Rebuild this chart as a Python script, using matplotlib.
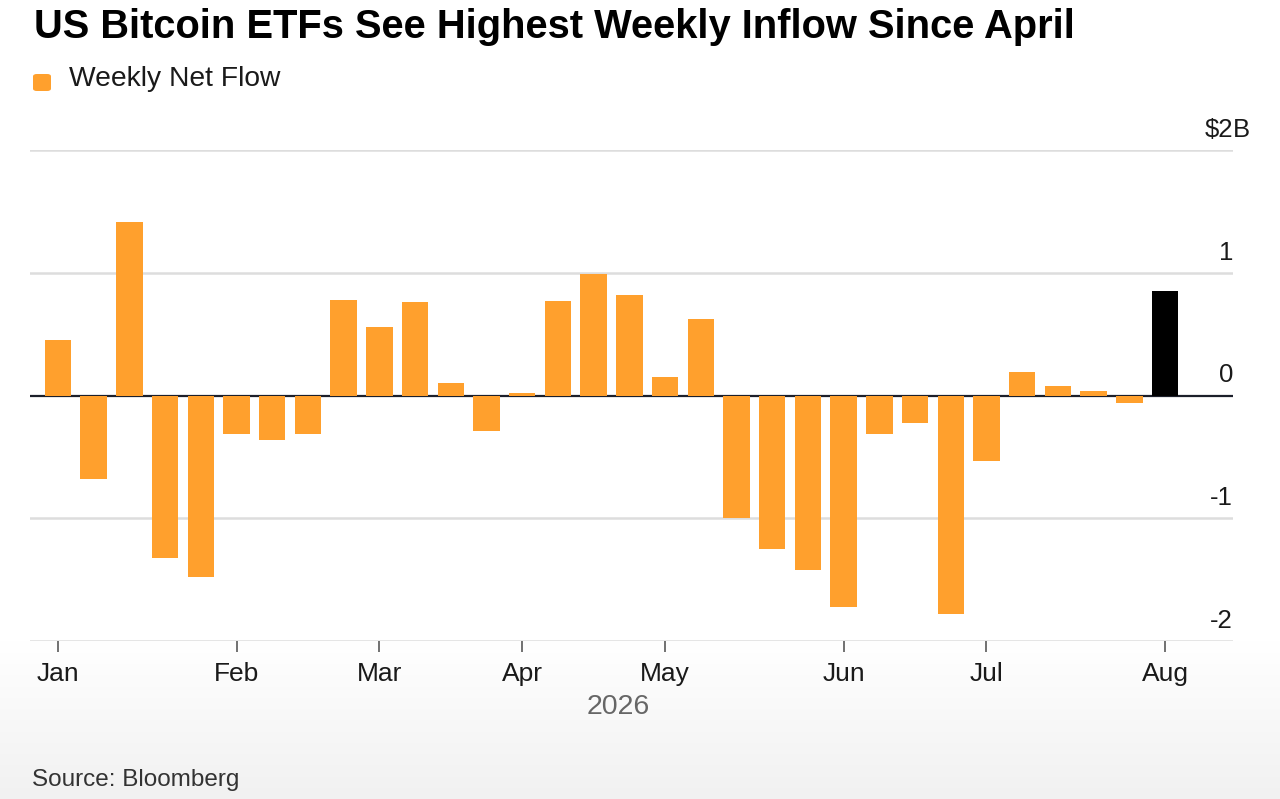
import numpy as np
import pandas as pd
import matplotlib
matplotlib.use("Agg")
import matplotlib.pyplot as plt
from matplotlib.patches import FancyBboxPatch

plt.rcParams['font.family'] = ['Liberation Sans', 'DejaVu Sans']

# ---- data ----
week_ending = list(pd.date_range('2026-01-02', periods=32, freq='7D').strftime('%Y-%m-%d'))
net_flow_bn = [0.45, -0.68, 1.41, -1.32, -1.48, -0.31, -0.36, -0.31,
               0.78, 0.56, 0.76, 0.10, -0.29, 0.02, 0.77, 0.99,
               0.82, 0.15, 0.62, -1.00, -1.25, -1.42, -1.72, -0.31,
               -0.22, -1.78, -0.53, 0.19, 0.08, 0.04, -0.06, 0.85]
highlight_last = True
y_ticks = [-2, -1, 0, 1, 2]
y_tick_labels = ['-2', '-1', '0', '1', '$2']
title = "US Bitcoin ETFs See Highest Weekly Inflow Since April"
legend_label = "Weekly Net Flow"
year_label = "2026"
source = "Source: Bloomberg"

ORANGE = '#ffa02d'
DARK = '#1a1a1a'

W, H = 1280, 799
fig = plt.figure(figsize=(W / 100, H / 100), dpi=100)

# background gradient
bg = fig.add_axes([0, 0, 1, 1], zorder=-5)
start = 641
t = np.clip((np.arange(H) - start) / (H - start), 0, 1)
vals = 1.0 - t * (1.0 - 0.945)
img = np.repeat(vals[:, None], 4, axis=1)
rgb = np.dstack([img, img, img])
bg.imshow(rgb, aspect='auto', extent=[0, 1, 0, 1], origin='upper', interpolation='bilinear')
bg.axis('off')

def px(x, y):
    return x / W, 1 - y / H

left, right, top, bottom = 30, 1233, 150, 641
ax = fig.add_axes([left / W, (H - bottom) / H, (right - left) / W, (bottom - top) / H])
ax.set_facecolor('none')

x = np.arange(len(net_flow_bn))
colors = [ORANGE] * len(net_flow_bn)
if highlight_last:
    colors[-1] = '#000000'
ax.bar(x, net_flow_bn, width=0.74, color=colors, linewidth=0, zorder=3)

ax.set_ylim(-2, 2)
ax.set_xlim(-0.784, 32.904)

for v in y_ticks:
    if v == 0:
        ax.axhline(v, color='#1c1f2a', lw=1.6, zorder=2)
    else:
        ax.axhline(v, color='#dddddd', lw=1.8, zorder=1)

for s in ax.spines.values():
    s.set_visible(False)
ax.set_yticks([])

# y labels above gridlines, right aligned
xr = ax.get_xlim()[1]
off = 13 / ((bottom - top) / 4)
for v, lab in zip(y_ticks, y_tick_labels):
    ax.text(xr, v + off, lab, ha='right', va='baseline', fontsize=18.5, color=DARK)
    if v == 2:
        ax.text(xr, v + off, 'B', ha='left', va='baseline', fontsize=18.5, color=DARK)

# month ticks at first week of each month
dates = pd.to_datetime(week_ending)
months = dates.month
tick_pos = [i for i in range(len(dates)) if i == 0 or months[i] != months[i - 1]]
tick_lab = [dates[i].strftime('%b') for i in tick_pos]
ax.set_xticks(tick_pos, tick_lab)
ax.tick_params(axis='x', length=8, width=1.3, color='#666666', pad=7,
               labelsize=19, labelcolor=DARK)

fig.text(*px(618, 714), year_label, ha='center', va='baseline', fontsize=20.5, color='#666666')

fig.text(*px(34, 38), title, ha='left', va='baseline', fontsize=28.7, fontweight='bold', color='#000000')

sq = FancyBboxPatch(px(33, 91), 18 / W, 17 / H, boxstyle='round,pad=0,rounding_size=0.003',
                    transform=fig.transFigure, facecolor=ORANGE, edgecolor='none')
fig.patches.append(sq)
fig.text(*px(69, 86), legend_label, ha='left', va='baseline', fontsize=20.3, color=DARK)

fig.text(*px(32, 786), source, ha='left', va='baseline', fontsize=17.5, color='#333333')

fig.savefig('out.png', dpi=100)
